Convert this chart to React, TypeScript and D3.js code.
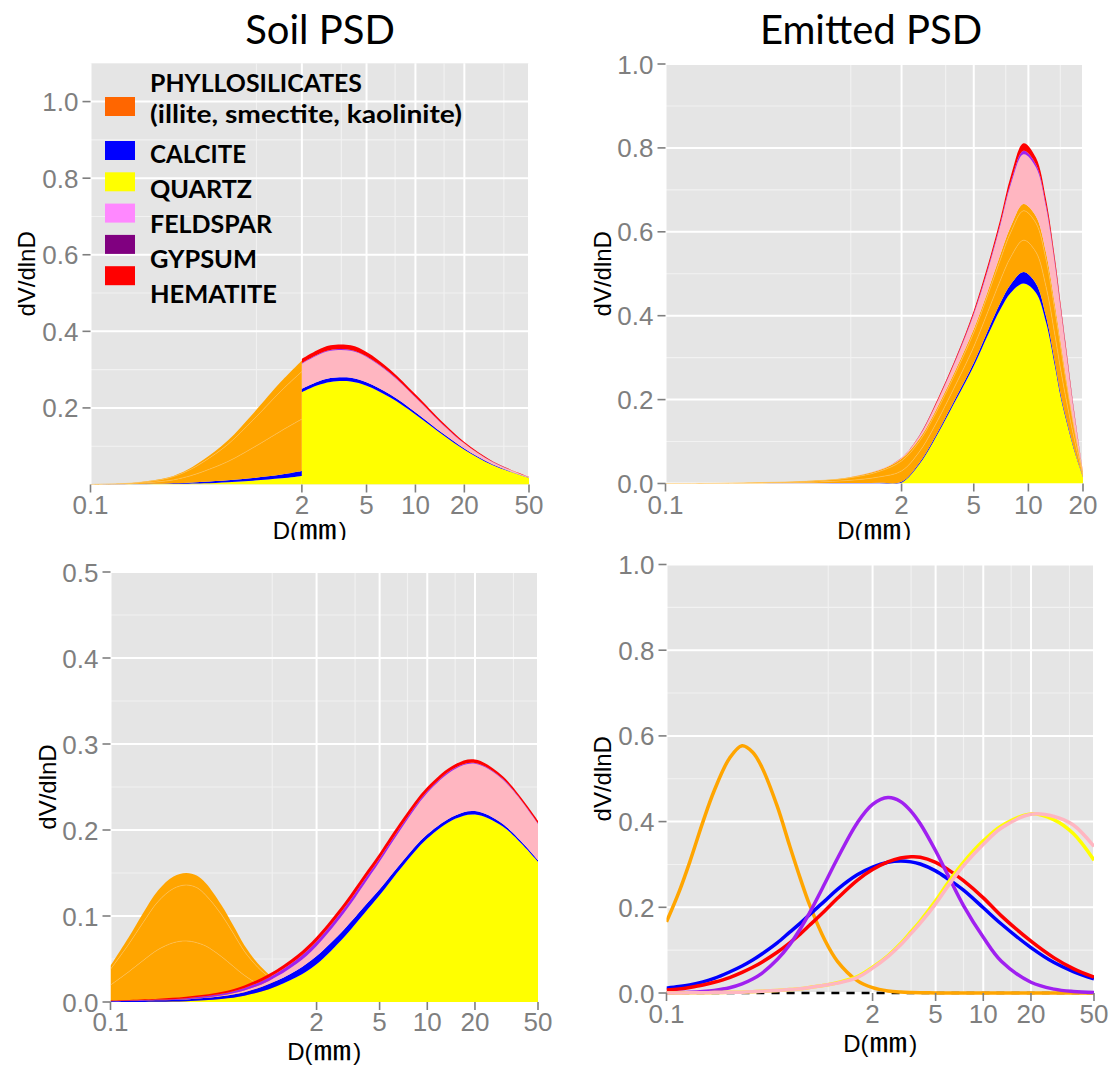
import React from 'react';
import * as d3 from 'd3';

// ---------------- Colours ----------------
const COL_QUARTZ = '#FFFF00';
const COL_CALCITE = '#0000FF';
const COL_PHYLLO = '#FFA500';
const COL_FELDSPAR = '#FFB6C1';
const COL_GYPSUM = '#A020F0';
const COL_HEMATITE = '#FF0000';

// ---------------- Panel 1: Soil PSD (top-left) ----------------
const soilTopDLeft = [0.1, 0.15, 0.2, 0.3, 0.4, 0.5, 0.7, 1, 1.5, 2];
const soilTopQuartzLeft = [0, 0, 0.0005, 0.001, 0.002, 0.003, 0.006, 0.01, 0.016, 0.022];
const soilTopCalciteLeft = [0, 0.0005, 0.001, 0.0015, 0.0025, 0.004, 0.005, 0.007, 0.01, 0.013];
const soilTopIlliteLeft = [0, 0.0007, 0.0021, 0.0073, 0.0167, 0.0277, 0.0489, 0.079, 0.1147, 0.1358];
const soilTopSmectiteLeft = [0, 0.0006, 0.0019, 0.0067, 0.0153, 0.0254, 0.0447, 0.0722, 0.1049, 0.1243];
const soilTopKaoliniteLeft = [0, 0.0002, 0.0005, 0.0015, 0.0035, 0.0059, 0.0104, 0.0168, 0.0244, 0.0289];

const soilTopDRight = [2, 2.5, 3, 4, 5, 7, 10, 15, 20, 30, 50];
const soilTopQuartzRight = [0.241, 0.259, 0.268, 0.269, 0.258, 0.227, 0.183, 0.127, 0.091, 0.05, 0.017];
const soilTopCalciteRight = [0.009, 0.0095, 0.01, 0.01, 0.009, 0.008, 0.006, 0.004, 0.003, 0.002, 0.0008];
const soilTopFeldsparRight = [0.0655, 0.069, 0.071, 0.07, 0.066, 0.054, 0.038, 0.022, 0.013, 0.006, 0.0015];
const soilTopGypsumRight = [0.002, 0.0022, 0.0025, 0.0025, 0.002, 0.002, 0.0015, 0.001, 0.0008, 0.0005, 0.0002];
const soilTopHematiteRight = [0.0105, 0.0115, 0.012, 0.012, 0.011, 0.009, 0.007, 0.005, 0.003, 0.0018, 0.0006];

// ---------------- Panel 2: Emitted PSD (top-right) ----------------
const emitTopD = [0.1, 0.2, 0.3, 0.5, 0.7, 1, 1.5, 2, 2.5, 3, 4, 5, 6, 7, 8, 9.4, 11, 12.5, 14, 15, 16, 18, 20];
const emitTopQuartz = [0, 0, 0, 0, 0, 0, 0, 0.002, 0.045, 0.1, 0.2, 0.28, 0.355, 0.415, 0.455, 0.477, 0.455, 0.385, 0.28, 0.21, 0.158, 0.075, 0.015];
const emitTopCalcite = [0, 0, 0, 0.0003, 0.0005, 0.001, 0.0015, 0.002, 0.003, 0.004, 0.006, 0.008, 0.011, 0.015, 0.02, 0.027, 0.022, 0.014, 0.009, 0.007, 0.005, 0.003, 0.001];
const emitTopIllite = [0, 0.0002, 0.001, 0.002, 0.0033, 0.006, 0.014, 0.026, 0.027, 0.028, 0.032, 0.038, 0.045, 0.054, 0.065, 0.076, 0.075, 0.071, 0.065, 0.059, 0.047, 0.0235, 0.004];
const emitTopSmectite = [0, 0.0002, 0.0009, 0.0017, 0.003, 0.0056, 0.013, 0.0235, 0.025, 0.026, 0.029, 0.034, 0.041, 0.049, 0.059, 0.07, 0.069, 0.065, 0.059, 0.054, 0.043, 0.0215, 0.0034];
const emitTopKaolinite = [0, 0.0001, 0.0001, 0.0003, 0.0007, 0.0014, 0.003, 0.0055, 0.006, 0.006, 0.007, 0.008, 0.009, 0.012, 0.014, 0.016, 0.016, 0.016, 0.014, 0.012, 0.01, 0.005, 0.0006];
const emitTopFeldspar = [0, 0, 0, 0, 0, 0, 0.001, 0.002, 0.006, 0.012, 0.022, 0.035, 0.05, 0.07, 0.1, 0.119, 0.117, 0.108, 0.095, 0.08, 0.065, 0.03, 0.003];
const emitTopGypsum = [0, 0, 0, 0, 0, 0, 0, 0, 0.0005, 0.001, 0.002, 0.003, 0.004, 0.005, 0.006, 0.008, 0.007, 0.006, 0.005, 0.004, 0.003, 0.002, 0.0005];
const emitTopHematite = [0, 0, 0, 0, 0, 0, 0, 0.0005, 0.0015, 0.003, 0.004, 0.006, 0.008, 0.01, 0.014, 0.018, 0.016, 0.013, 0.01, 0.008, 0.007, 0.004, 0.001];

// ---------------- Panel 3: Soil PSD (bottom-left) ----------------
const soilBotPhylloD = [0.1, 0.13, 0.16, 0.2, 0.25, 0.3, 0.35, 0.4, 0.5, 0.6, 0.7, 0.85, 1, 1.2, 1.5, 2, 3];
const soilBotIllite = [0.0197, 0.035, 0.048, 0.061, 0.069, 0.071, 0.069, 0.065, 0.053, 0.041, 0.031, 0.021, 0.015, 0.009, 0.0042, 0.0014, 0.0002];
const soilBotSmectite = [0.0183, 0.032, 0.044, 0.056, 0.063, 0.065, 0.064, 0.059, 0.049, 0.038, 0.028, 0.0195, 0.014, 0.008, 0.0039, 0.0013, 0.0002];
const soilBotKaolinite = [0.004, 0.008, 0.011, 0.013, 0.014, 0.014, 0.014, 0.014, 0.011, 0.009, 0.007, 0.0045, 0.003, 0.002, 0.0009, 0.0003, 0.0001];

const soilBotD = [0.1, 0.2, 0.3, 0.5, 0.7, 1, 1.5, 2, 3, 4, 5, 7, 10, 15, 20, 30, 50];
const soilBotQuartz = [0, 0.0004, 0.001, 0.0036, 0.0074, 0.0148, 0.029, 0.044, 0.076, 0.103, 0.124, 0.158, 0.19, 0.213, 0.218, 0.204, 0.163];
const soilBotCalcite = [0.0008, 0.0015, 0.002, 0.003, 0.004, 0.006, 0.008, 0.0095, 0.009, 0.008, 0.007, 0.006, 0.005, 0.004, 0.004, 0.003, 0.002];
const soilBotFeldspar = [0, 0.0001, 0.0003, 0.0009, 0.0019, 0.0037, 0.0074, 0.0114, 0.019, 0.026, 0.032, 0.04, 0.048, 0.054, 0.055, 0.0515, 0.042];
const soilBotGypsum = [0.0003, 0.0008, 0.0012, 0.002, 0.003, 0.004, 0.005, 0.0055, 0.0055, 0.005, 0.004, 0.003, 0.002, 0.0015, 0.001, 0.001, 0.0008];
const soilBotHematite = [0.0005, 0.001, 0.0015, 0.002, 0.003, 0.004, 0.005, 0.0055, 0.006, 0.006, 0.006, 0.006, 0.005, 0.004, 0.004, 0.003, 0.003];

// ---------------- Panel 4: Emitted PSD (bottom-right, lines) ----------------
const emitBotD = [0.1, 0.12, 0.14, 0.17, 0.2, 0.25, 0.3, 0.35, 0.4, 0.5, 0.6, 0.7, 0.8, 1, 1.2, 1.6, 2, 2.5, 3, 3.5, 4, 5, 6, 7.5, 10, 13, 20, 28, 37, 50];
const emitBotPhyllo = [0.166, 0.236, 0.305, 0.4, 0.472, 0.548, 0.577, 0.562, 0.527, 0.436, 0.343, 0.267, 0.206, 0.123, 0.074, 0.029, 0.0127, 0.0049, 0.0021, 0.001, 0.0005, 0.0002, 0, 0, 0, 0, 0, 0, 0, 0];
const emitBotGypsum = [0.0004, 0.0009, 0.0016, 0.0034, 0.006, 0.0123, 0.0214, 0.0328, 0.046, 0.078, 0.113, 0.15, 0.187, 0.256, 0.314, 0.397, 0.44, 0.456, 0.447, 0.424, 0.395, 0.332, 0.274, 0.204, 0.13, 0.074, 0.025, 0.009, 0.0035, 0.0011];
const emitBotCalcite = [0.0114, 0.015, 0.019, 0.026, 0.034, 0.049, 0.063, 0.077, 0.091, 0.117, 0.142, 0.163, 0.183, 0.215, 0.242, 0.276, 0.294, 0.305, 0.308, 0.306, 0.301, 0.285, 0.266, 0.24, 0.199, 0.161, 0.106, 0.071, 0.05, 0.033];
const emitBotHematite = [0.007, 0.0095, 0.013, 0.0185, 0.025, 0.036, 0.048, 0.06, 0.072, 0.095, 0.117, 0.138, 0.158, 0.192, 0.221, 0.263, 0.288, 0.306, 0.315, 0.318, 0.317, 0.305, 0.288, 0.262, 0.222, 0.18, 0.121, 0.082, 0.057, 0.037];
const emitBotQuartz = [0, 0.0002, 0.0003, 0.0005, 0.001, 0.0015, 0.002, 0.003, 0.004, 0.006, 0.008, 0.01, 0.013, 0.018, 0.024, 0.038, 0.06, 0.087, 0.115, 0.143, 0.168, 0.215, 0.258, 0.305, 0.355, 0.39, 0.418, 0.404, 0.372, 0.31];
const emitBotFeldspar = [0, 0.0002, 0.0003, 0.0005, 0.001, 0.0015, 0.002, 0.003, 0.004, 0.006, 0.008, 0.01, 0.013, 0.018, 0.023, 0.036, 0.058, 0.085, 0.112, 0.139, 0.163, 0.208, 0.25, 0.297, 0.347, 0.385, 0.417, 0.412, 0.392, 0.342];
const emitBotNone = emitBotD.map(() => 0);

// ---------------- Axis ticks & legend ----------------
const xTicks50 = [0.1, 2, 5, 10, 20, 50];
const xTicks20 = [0.1, 2, 5, 10, 20];
const xMinor50 = [1.05, 3.5, 7.5, 15, 35];
const xMinor20 = [1.05, 3.5, 7.5, 15];
const yTicksA = [0.2, 0.4, 0.6, 0.8, 1.0];
const yMinorA = [0.1, 0.3, 0.5, 0.7, 0.9];
const yTicksB = [0, 0.2, 0.4, 0.6, 0.8, 1.0];
const yTicksC = [0, 0.1, 0.2, 0.3, 0.4, 0.5];
const yMinorC = [0.05, 0.15, 0.25, 0.35, 0.45];

const legendLabels = [
  ['PHYLLOSILICATES', '(illite, smectite, kaolinite)'],
  ['CALCITE'],
  ['QUARTZ'],
  ['FELDSPAR'],
  ['GYPSUM'],
  ['HEMATITE'],
];
const legendColors = ['#FF6600', '#0000FF', '#FFFF00', '#FF88FF', '#800080', '#FF0000'];
// rendered widths of the legend labels (layout only)
const legendLabelWidths = [[212, 312], [96], [102], [122], [107], [127]];

const panelTitles = ['Soil PSD', 'Emitted PSD'];

const F_TICK = '"Liberation Sans", Arial, Helvetica, sans-serif';
const F_TITLE = 'Lato, "Open Sans", "Noto Sans", sans-serif';
const F_CJK = '"Noto Sans CJK JP", "Noto Sans CJK SC", sans-serif';

const CURVE = d3.curveCatmullRom.alpha(0.5);

type Spec = {
  id: string;
  x0: number; x1: number; yTop: number; yBot: number;
  xDom: [number, number]; yDom: [number, number];
  yTicks: number[]; yMinor: number[]; xTicks: number[]; xMinor: number[];
  yTitleX: number; xLabelBase: number; xTitleBase: number;
  clipPadBottom?: number;
};

type Layer = { key: string; color: string; values: number[] };

function stackAreas(xs: any, ys: any, grid: number[], layers: Layer[], seams = false) {
  const rows = grid.map((D, i) => {
    const r: any = { D };
    layers.forEach((l) => (r[l.key] = l.values[i]));
    return r;
  });
  const stacked = d3.stack<any>().keys(layers.map((l) => l.key))(rows);
  const area = d3
    .area<any>()
    .x((d) => xs(d.data.D))
    .y0((d) => ys(d[0]))
    .y1((d) => ys(d[1]))
    .curve(CURVE);
  const line = d3
    .line<any>()
    .x((d) => xs(d.data.D))
    .y((d) => ys(d[1]))
    .curve(CURVE);
  return (
    <g>
      {stacked.map((s, i) => (
        <path key={s.key} d={area(s) || ''} fill={layers[i].color} stroke="none" />
      ))}
      {seams &&
        stacked.map((s, i) =>
          layers[i].color === COL_PHYLLO && i < stacked.length - 1 && layers[i + 1].color === COL_PHYLLO ? (
            <path key={'seam' + s.key} d={line(s) || ''} fill="none" stroke="#FFC35A" strokeWidth={0.8} opacity={0.8} />
          ) : null
        )}
    </g>
  );
}

function XTitle({ cx, base }: { cx: number; base: number }) {
  const left = cx - 37;
  return (
    <g fill="#000">
      <text x={left} y={base} fontFamily={F_TICK} fontSize={24}>D(</text>
      <text x={left + 26} y={base} fontFamily={F_CJK} fontSize={27} textLength={38} lengthAdjust="spacingAndGlyphs">
        ㎜
      </text>
      <text x={left + 66} y={base} fontFamily={F_TICK} fontSize={24}>)</text>
    </g>
  );
}

function Panel({ spec, children }: { spec: Spec; children: (xs: any, ys: any) => React.ReactNode }) {
  const { x0, x1, yTop, yBot } = spec;
  const xs = d3.scaleLog().domain(spec.xDom).range([x0, x1]);
  const ys = d3.scaleLinear().domain(spec.yDom).range([yBot, yTop]);
  const fmtY = d3.format('.1f');
  const midY = (yTop + yBot) / 2;
  const midX = (x0 + x1) / 2;
  const pad = spec.clipPadBottom || 0;
  return (
    <g>
      <rect x={x0} y={yTop} width={x1 - x0} height={yBot - yTop} fill="#E5E5E5" />
      {spec.yMinor.map((v) => (
        <line key={'ym' + v} x1={x0} x2={x1} y1={ys(v)} y2={ys(v)} stroke="#F2F2F2" strokeWidth={1.1} />
      ))}
      {spec.xMinor.map((v) => (
        <line key={'xm' + v} x1={xs(v)} x2={xs(v)} y1={yTop} y2={yBot} stroke="#F2F2F2" strokeWidth={1.1} />
      ))}
      {spec.yTicks.map((v) => (
        <line key={'yM' + v} x1={x0} x2={x1} y1={ys(v)} y2={ys(v)} stroke="#FFFFFF" strokeWidth={2} />
      ))}
      {spec.xTicks.map((v) => (
        <line key={'xM' + v} x1={xs(v)} x2={xs(v)} y1={yTop} y2={yBot} stroke="#FFFFFF" strokeWidth={2} />
      ))}
      <clipPath id={'clip-' + spec.id}>
        <rect x={x0} y={yTop} width={x1 - x0} height={yBot - yTop + pad} />
      </clipPath>
      <g clipPath={`url(#clip-${spec.id})`}>{children(xs, ys)}</g>
      {spec.yTicks.map((v) => (
        <g key={'yt' + v}>
          <line x1={x0 - 8} x2={x0} y1={ys(v)} y2={ys(v)} stroke="#7F7F7F" strokeWidth={1.6} />
          <text x={x0 - 12} y={ys(v) + 9.5} textAnchor="end" fontFamily={F_TICK} fontSize={26} fill="#7F7F7F">
            {fmtY(v)}
          </text>
        </g>
      ))}
      {spec.xTicks.map((v) => (
        <g key={'xt' + v}>
          <line x1={xs(v)} x2={xs(v)} y1={yBot} y2={yBot + 8} stroke="#7F7F7F" strokeWidth={1.6} />
          <text x={xs(v)} y={spec.xLabelBase} textAnchor="middle" fontFamily={F_TICK} fontSize={26} fill="#7F7F7F">
            {String(v)}
          </text>
        </g>
      ))}
      <text
        transform={`translate(${spec.yTitleX},${midY}) rotate(-90)`}
        textAnchor="middle"
        fontFamily={F_TICK}
        fontSize={24}
        fill="#000"
      >
        dV/dlnD
      </text>
      <XTitle cx={midX} base={spec.xTitleBase} />
    </g>
  );
}

const P1: Spec = {
  id: 'p1', x0: 90.5, x1: 529, yTop: 63.3, yBot: 484.5, xDom: [0.1, 50], yDom: [0, 1.1],
  yTicks: yTicksA, yMinor: yMinorA, xTicks: xTicks50, xMinor: xMinor50,
  yTitleX: 35, xLabelBase: 514, xTitleBase: 539,
};
const P2: Spec = {
  id: 'p2', x0: 665.5, x1: 1083, yTop: 64, yBot: 483.5, xDom: [0.1, 20], yDom: [0, 1],
  yTicks: yTicksB, yMinor: yMinorA, xTicks: xTicks20, xMinor: xMinor20,
  yTitleX: 611, xLabelBase: 514, xTitleBase: 539,
};
const P3: Spec = {
  id: 'p3', x0: 110.5, x1: 538, yTop: 572, yBot: 1002, xDom: [0.1, 50], yDom: [0, 0.5],
  yTicks: yTicksC, yMinor: yMinorC, xTicks: xTicks50, xMinor: xMinor50,
  yTitleX: 56, xLabelBase: 1031, xTitleBase: 1060,
};
const P4: Spec = {
  id: 'p4', x0: 666.5, x1: 1094, yTop: 564.5, yBot: 993, xDom: [0.1, 50], yDom: [0, 1],
  yTicks: yTicksB, yMinor: yMinorA, xTicks: xTicks50, xMinor: xMinor50,
  yTitleX: 611, xLabelBase: 1023, xTitleBase: 1052, clipPadBottom: 4,
};

function Legend() {
  const keyTops = legendColors.map((_, i) => (i === 0 ? 97 : 141 + (i - 1) * 31.3));
  return (
    <g>
      {legendColors.map((c, i) => (
        <rect key={'k' + i} x={105} y={keyTops[i]} width={30} height={19} fill={c} />
      ))}
      {legendLabels.map((lines, i) =>
        lines.map((t, j) => (
          <text
            key={'t' + i + '_' + j}
            x={150}
            y={i === 0 ? 92 + j * 31 : 163 + (i - 1) * 35}
            fontFamily={F_TITLE}
            fontWeight={700}
            fontSize={25}
            fill="#000"
            textLength={legendLabelWidths[i][j]}
            lengthAdjust="spacingAndGlyphs"
          >
            {t}
          </text>
        ))
      )}
    </g>
  );
}

export default function App() {
  const lineGen = (xs: any, ys: any, vals: number[]) =>
    d3
      .line<number>()
      .x((_, i) => xs(emitBotD[i]))
      .y((v) => ys(v))
      .curve(CURVE)(vals) || '';

  return (
    <svg
      width={1110}
      height={1075}
      style={{ position: 'absolute', left: 0, top: 0, background: '#fff' }}
      xmlns="http://www.w3.org/2000/svg"
    >
      <rect x={0} y={0} width={1110} height={1075} fill="#fff" />
      <clipPath id="toprow">
        <rect x={0} y={0} width={1110} height={540} />
      </clipPath>
      <g clipPath="url(#toprow)">
        <Panel spec={P1}>
          {(xs, ys) => (
            <g>
              {stackAreas(xs, ys, soilTopDLeft, [
                { key: 'q', color: COL_QUARTZ, values: soilTopQuartzLeft },
                { key: 'c', color: COL_CALCITE, values: soilTopCalciteLeft },
                { key: 'i', color: COL_PHYLLO, values: soilTopIlliteLeft },
                { key: 's', color: COL_PHYLLO, values: soilTopSmectiteLeft },
                { key: 'k', color: COL_PHYLLO, values: soilTopKaoliniteLeft },
              ], true)}
              {stackAreas(xs, ys, soilTopDRight, [
                { key: 'q', color: COL_QUARTZ, values: soilTopQuartzRight },
                { key: 'c', color: COL_CALCITE, values: soilTopCalciteRight },
                { key: 'f', color: COL_FELDSPAR, values: soilTopFeldsparRight },
                { key: 'g', color: COL_GYPSUM, values: soilTopGypsumRight },
                { key: 'h', color: COL_HEMATITE, values: soilTopHematiteRight },
              ])}
            </g>
          )}
        </Panel>
        <Legend />
        <Panel spec={P2}>
          {(xs, ys) =>
            stackAreas(xs, ys, emitTopD, [
              { key: 'q', color: COL_QUARTZ, values: emitTopQuartz },
              { key: 'c', color: COL_CALCITE, values: emitTopCalcite },
              { key: 'i', color: COL_PHYLLO, values: emitTopIllite },
              { key: 's', color: COL_PHYLLO, values: emitTopSmectite },
              { key: 'k', color: COL_PHYLLO, values: emitTopKaolinite },
              { key: 'f', color: COL_FELDSPAR, values: emitTopFeldspar },
              { key: 'g', color: COL_GYPSUM, values: emitTopGypsum },
              { key: 'h', color: COL_HEMATITE, values: emitTopHematite },
            ], true)
          }
        </Panel>
      </g>
      <Panel spec={P3}>
        {(xs, ys) => (
          <g>
            {stackAreas(xs, ys, soilBotPhylloD, [
              { key: 'i', color: COL_PHYLLO, values: soilBotIllite },
              { key: 's', color: COL_PHYLLO, values: soilBotSmectite },
              { key: 'k', color: COL_PHYLLO, values: soilBotKaolinite },
            ], true)}
            {stackAreas(xs, ys, soilBotD, [
              { key: 'q', color: COL_QUARTZ, values: soilBotQuartz },
              { key: 'c', color: COL_CALCITE, values: soilBotCalcite },
              { key: 'f', color: COL_FELDSPAR, values: soilBotFeldspar },
              { key: 'g', color: COL_GYPSUM, values: soilBotGypsum },
              { key: 'h', color: COL_HEMATITE, values: soilBotHematite },
            ])}
          </g>
        )}
      </Panel>
      <Panel spec={P4}>
        {(xs, ys) => (
          <g fill="none" strokeWidth={3.5} strokeLinejoin="round">
            <path d={lineGen(xs, ys, emitBotNone)} stroke="#000" strokeDasharray="8,7" strokeWidth={2.7} />
            <path d={lineGen(xs, ys, emitBotPhyllo)} stroke={COL_PHYLLO} />
            <path d={lineGen(xs, ys, emitBotCalcite)} stroke={COL_CALCITE} />
            <path d={lineGen(xs, ys, emitBotHematite)} stroke={COL_HEMATITE} />
            <path d={lineGen(xs, ys, emitBotGypsum)} stroke={COL_GYPSUM} />
            <path d={lineGen(xs, ys, emitBotQuartz)} stroke={COL_QUARTZ} />
            <path d={lineGen(xs, ys, emitBotFeldspar)} stroke={COL_FELDSPAR} />
          </g>
        )}
      </Panel>
      {panelTitles.map((t, i) => (
        <text key={t} x={i === 0 ? 320 : 871} y={44} textAnchor="middle" fontFamily={F_TITLE} fontSize={40} fill="#000">
          {t}
        </text>
      ))}
    </svg>
  );
}
